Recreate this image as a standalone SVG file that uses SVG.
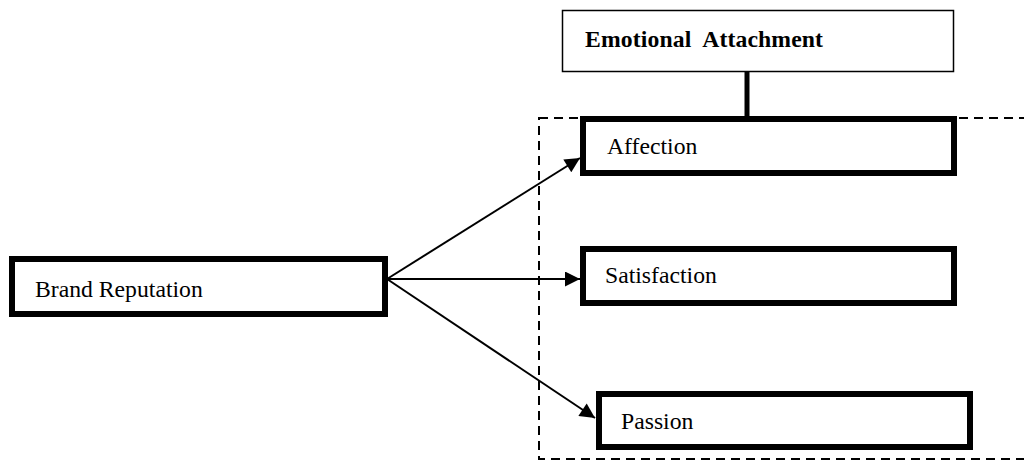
<svg xmlns="http://www.w3.org/2000/svg" width="1024" height="461" viewBox="0 0 1024 461">
<style>
.box{fill:#fff;stroke:#000;stroke-width:6}
.thin{fill:#fff;stroke:#000;stroke-width:1.5}
text{font-family:'Liberation Serif','Times New Roman',serif;font-size:23.7px;fill:#000}
.bold{font-weight:bold;white-space:pre}
.arr{stroke:#000;stroke-width:2;fill:none;marker-end:url(#ah)}
</style>
<defs>
<marker id="ah" viewBox="0 0 10 10" refX="10" refY="5" markerUnits="userSpaceOnUse" markerWidth="17" markerHeight="15" orient="auto">
<path d="M0,0 L10,5 L0,10 Z" fill="#000"/>
</marker>
</defs>
<rect id="group" x="539" y="118" width="500" height="341" fill="none" stroke="#000" stroke-width="2" stroke-dasharray="9,6"/>
<g id="connectors">
<line x1="747" y1="72" x2="747" y2="117" stroke="#000" stroke-width="5"/>
<line class="arr" x1="387" y1="279" x2="580" y2="158"/>
<line class="arr" x1="387" y1="279" x2="580" y2="279"/>
<line class="arr" x1="387" y1="279" x2="595" y2="418"/>
</g>
<g id="emotional-attachment">
<rect class="thin" x="562.5" y="10.5" width="391" height="61"/>
<text class="bold" x="585" y="47" textLength="238" lengthAdjust="spacing">Emotional  Attachment</text>
</g>
<g id="brand-reputation">
<rect class="box" x="12" y="259" width="373" height="55"/>
<text x="35" y="297">Brand Reputation</text>
</g>
<g id="affection">
<rect class="box" x="583" y="119" width="371" height="54"/>
<text x="607" y="154">Affection</text>
</g>
<g id="satisfaction">
<rect class="box" x="583" y="249" width="371" height="54"/>
<text x="605" y="283">Satisfaction</text>
</g>
<g id="passion">
<rect class="box" x="599" y="394" width="371" height="53"/>
<text x="621" y="429">Passion</text>
</g>
</svg>
